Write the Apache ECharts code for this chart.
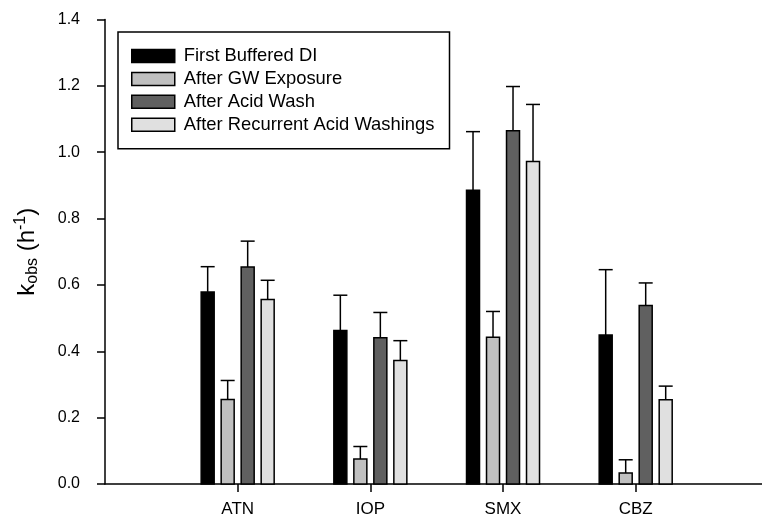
<!DOCTYPE html>
<html>
<head>
<meta charset="utf-8">
<script src="https://cdn.jsdelivr.net/npm/echarts@6/dist/echarts.min.js"></script>
<style>html,body{margin:0;padding:0;background:#fff}#c{width:762px;height:520px}</style>
</head>
<body>
<div id="c"></div>
<script>
var categories = ['ATN', 'IOP', 'SMX', 'CBZ'];
var seriesNames = ['First Buffered DI', 'After GW Exposure', 'After Acid Wash', 'After Recurrent Acid Washings'];
var firstBufferedDI = [0.579, 0.463, 0.885, 0.449];
var firstBufferedDIErr = [0.076, 0.106, 0.177, 0.197];
var afterGWExposure = [0.255, 0.075, 0.442, 0.033];
var afterGWExposureErr = [0.057, 0.038, 0.078, 0.040];
var afterAcidWash = [0.654, 0.441, 1.065, 0.538];
var afterAcidWashErr = [0.078, 0.076, 0.133, 0.068];
var afterRecurrent = [0.556, 0.372, 0.972, 0.254];
var afterRecurrentErr = [0.058, 0.060, 0.172, 0.041];
var yTicks = [0, 0.2, 0.4, 0.6, 0.8, 1.0, 1.2, 1.4];

var values = [firstBufferedDI, afterGWExposure, afterAcidWash, afterRecurrent];
var errs = [firstBufferedDIErr, afterGWExposureErr, afterAcidWashErr, afterRecurrentErr];
var colors = ['#000000', '#c0c0c0', '#606060', '#e0e0e0'];
var pxOffsets = [-30, -10, 10, 30];
var barW = 13;
var FONT = 'Arial, "Liberation Sans", sans-serif';

var series = values.map(function (vals, s) {
  return {
    name: seriesNames[s],
    type: 'custom',
    itemStyle: { color: colors[s], borderColor: '#000', borderWidth: 1.5 },
    data: vals.map(function (v, i) { return [i + 1, v, errs[s][i]]; }),
    renderItem: function (params, api) {
      var x = api.value(0), v = api.value(1), e = api.value(2);
      var base = api.coord([x, 0]);
      var top = api.coord([x, v]);
      var etop = api.coord([x, v + e]);
      var cx = base[0] + pxOffsets[s];
      return {
        type: 'group',
        children: [
          { type: 'line', shape: { x1: cx, y1: top[1], x2: cx, y2: etop[1] }, style: { stroke: '#000', lineWidth: 1.5 } },
          { type: 'line', shape: { x1: cx - barW / 2 - 0.5, y1: etop[1], x2: cx + barW / 2 + 0.5, y2: etop[1] }, style: { stroke: '#000', lineWidth: 1.5 } },
          { type: 'rect', shape: { x: cx - barW / 2, y: top[1], width: barW, height: base[1] - top[1] }, style: { fill: colors[s], stroke: '#000', lineWidth: 1.5 } }
        ]
      };
    }
  };
});

var chart = echarts.init(document.getElementById('c'), null, { renderer: 'canvas' });
chart.setOption({
  animation: false,
  backgroundColor: '#fff',
  grid: { left: 105, right: 0, top: 19.5, bottom: 36 },
  legend: {
    orient: 'vertical',
    left: 118, top: 32,
    padding: [15, 15, 15, 13],
    borderColor: '#000', borderWidth: 1.5,
    icon: 'rect',
    itemWidth: 43, itemHeight: 13, itemGap: 4.9,
    textStyle: { fontFamily: FONT, fontSize: 18.4, lineHeight: 13, color: '#000', padding: [0, 0, 0, 4] },
    data: seriesNames.map(function (n, i) {
      return { name: n, itemStyle: { color: colors[i], borderColor: '#000', borderWidth: 1.5 } };
    })
  },
  xAxis: {
    type: 'value', min: 0, max: 4.952,
    axisLine: { lineStyle: { color: '#000', width: 1.5 } },
    axisTick: { show: true, length: 8, customValues: [1, 2, 3, 4], lineStyle: { color: '#000', width: 1.5 } },
    axisLabel: {
      customValues: [1, 2, 3, 4], margin: 17,
      fontFamily: FONT, fontSize: 17, color: '#000',
      formatter: function (v) { return categories[Math.round(v) - 1] || ''; }
    },
    splitLine: { show: false }
  },
  yAxis: {
    type: 'value', min: 0, max: 1.4, interval: 0.2,
    axisLine: { show: true, lineStyle: { color: '#000', width: 1.5 } },
    axisTick: { show: true, length: 8, lineStyle: { color: '#000', width: 1.5 } },
    axisLabel: {
      margin: 25, fontFamily: FONT, fontSize: 16, color: '#000',
      customValues: yTicks,
      formatter: function (v) { return v.toFixed(1); }
    },
    splitLine: { show: false },
    name: '{k|k}{sub|obs}{k| (h}{sup|-1}{k|)}',
    nameLocation: 'middle', nameRotate: 90, nameGap: 64,
    nameTextStyle: {
      fontFamily: FONT, fontSize: 24, color: '#000',
      rich: {
        k: { fontFamily: FONT, fontSize: 24, color: '#000' },
        sub: { fontFamily: FONT, fontSize: 16, color: '#000', verticalAlign: 'bottom', padding: [12, 0, 0, 0] },
        sup: { fontFamily: FONT, fontSize: 16, color: '#000', verticalAlign: 'top', padding: [0, 0, 12, 0] }
      }
    }
  },
  series: series
});
</script>
</body>
</html>
